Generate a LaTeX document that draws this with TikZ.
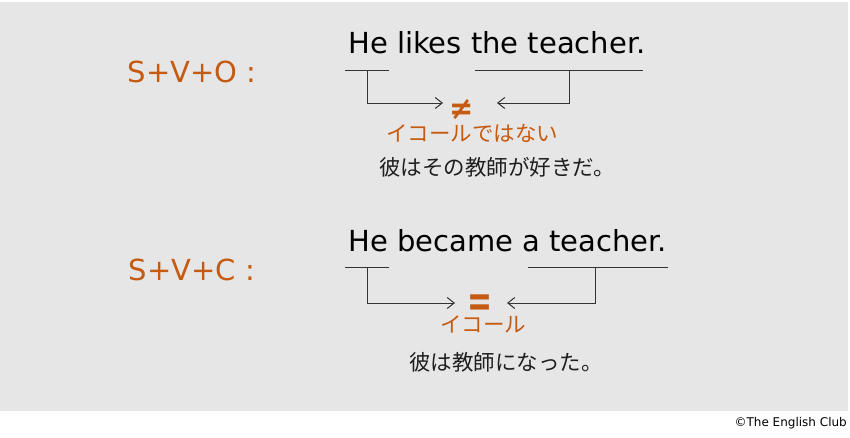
\documentclass[tikz,border=0pt]{standalone}
\usepackage{fontspec}
\setmainfont{DejaVu Sans}
\newfontfamily\jp{Noto Sans CJK JP}
\usetikzlibrary{arrows.meta}
\definecolor{bg}{HTML}{E7E6E6}
\definecolor{org}{HTML}{C55A11}
\definecolor{ln}{HTML}{333333}
\tikzset{
  pat/.style={text=org,font=\fontsize{29}{29}\selectfont,inner sep=0pt},
  sent/.style={text=black,font=\fontsize{29}{29}\selectfont,inner sep=0pt,anchor=base west},
  jpn/.style={text=black!88,font=\jp\fontsize{21.5}{21.5}\selectfont,inner sep=0pt},
  jpo/.style={text=org,font=\jp\fontsize{21.5}{21.5}\selectfont,inner sep=0pt,anchor=base,text height=13pt,text depth=3pt},
  sym/.style={text=org,font=\fontsize{29}{29}\selectfont\bfseries,inner sep=0pt,anchor=base,text depth=0pt},
  uline/.style={draw=ln,line width=1pt},
  arr/.style={draw=ln,line width=1pt,-{Straight Barb[length=7pt,width=11pt]}},
}
\begin{document}
\begin{tikzpicture}[x=1pt,y=-1pt]
\useasboundingbox (0,0) rectangle (850,437);
\fill[bg] (0,2) rectangle (848,411);

% ---- S+V+O ----
\node[pat] (p1) at (192,72) {S+V+O :};
\node[sent] (s1) at (348,53) {He likes the teacher.};
\coordinate (a1) at (345,70);
\coordinate (b1) at (389,70);
\coordinate (c1) at (475,70);
\coordinate (d1) at (643,70);
\draw[uline] (a1) -- (b1);
\draw[uline] (c1) -- (d1);
\node[sym,text height=20pt] (ne) at (462,119) {\scalebox{1}[1.1]{≠}};
\coordinate (l1) at (367,70);
\coordinate (r1) at (569,70);
\coordinate (tl1) at (443,103);
\coordinate (tr1) at (497,103);
\draw[arr] (l1) |- (tl1);
\draw[arr] (r1) |- (tr1);
\node[jpo] (j1) at (472,141) {イコールではない};
\node[jpn] (k1) at (497,167) {彼はその教師が好きだ。};

% ---- S+V+C ----
\node[pat] (p2) at (192,270) {S+V+C :};
\node[sent] (s2) at (348,251) {He became a teacher.};
\coordinate (a2) at (345,267);
\coordinate (b2) at (389,267);
\coordinate (c2) at (528,267);
\coordinate (d2) at (668,267);
\draw[uline] (a2) -- (b2);
\draw[uline] (c2) -- (d2);
\node[sym,text height=22pt] (eq) at (480,316) {\scalebox{1.03}[1.55]{=}};
\coordinate (l2) at (367,267);
\coordinate (r2) at (595,267);
\coordinate (tl2) at (455,303);
\coordinate (tr2) at (507,303);
\draw[arr] (l2) |- (tl2);
\draw[arr] (r2) |- (tr2);
\node[jpo] (j2) at (483,332) {イコール};
\node[jpn] (k2) at (506,362) {彼は教師になった。};

\node[text=black,font=\fontsize{12}{12}\selectfont,inner sep=0pt,anchor=east] (cr) at (847,423) {©The English Club};
\end{tikzpicture}
\end{document}
